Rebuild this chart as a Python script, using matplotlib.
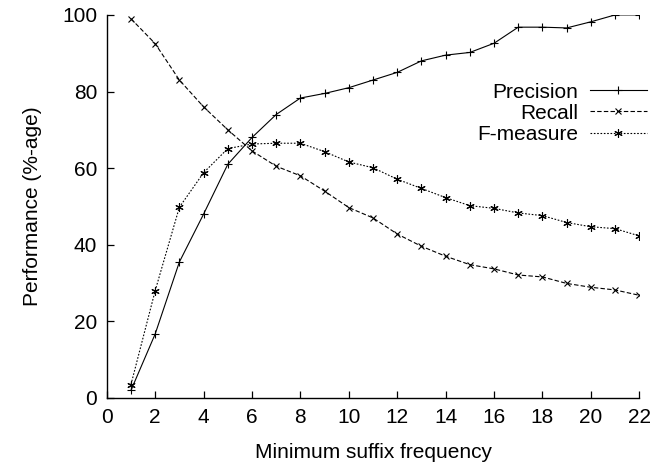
import matplotlib
matplotlib.use("Agg")
import matplotlib.pyplot as plt

# minimum suffix frequency vs performance
freq = list(range(1, 23))
precision = [2, 16.7, 35.5, 48, 61, 68, 74, 78.3, 79.5, 81, 83, 85,
             88, 89.5, 90.2, 92.6, 96.8, 96.8, 96.6, 98.2, 100, 100]
recall = [99, 92.5, 83, 76, 70, 64.5, 60.5, 58, 54, 49.7, 47, 42.8,
          39.6, 37, 34.8, 33.7, 32.1, 31.6, 29.9, 28.9, 28.2, 26.8]
fmeasure = [3.5, 28, 49.8, 58.8, 65.1, 66.3, 66.5, 66.5, 64.3, 61.6, 60.1, 57.1,
            54.7, 52.3, 50.2, 49.5, 48.3, 47.6, 45.8, 44.7, 44.2, 42.3]

plt.rcParams['font.family'] = ['Liberation Sans', 'DejaVu Sans']
plt.rcParams['font.size'] = 15

fig = plt.figure(figsize=(6.55, 4.66), dpi=100)
ax = fig.add_axes([0.163, 0.146, 0.813, 0.822])

ax.plot(freq, precision, color='black', lw=0.8, marker='+', ms=6, mew=0.8,
        label='Precision')
ax.plot(freq, recall, color='black', lw=0.8, ls=(0, (4, 2)), marker='x', ms=5,
        mew=0.8, label='Recall')
ax.plot(freq, fmeasure, color='black', lw=0.8, ls=(0, (1.5, 1.5)), marker=(6, 2, 0),
        ms=6, mew=0.8, label='F-measure')

ax.set_xlim(0, 22)
ax.set_ylim(0, 100)
ax.set_xticks(range(0, 23, 2))
ax.set_yticks(range(0, 101, 20))
ax.tick_params(direction='in', length=5, width=0.9, pad=7)
for s in ['top', 'right']:
    ax.spines[s].set_visible(False)
for s in ['left', 'bottom']:
    ax.spines[s].set_linewidth(1.0)

ax.set_xlabel('Minimum suffix frequency', labelpad=12)
ax.set_ylabel('Performance (%-age)', labelpad=14)

ax.legend(loc='upper right', bbox_to_anchor=(1.003, 0.845),
          bbox_transform=fig.transFigure, frameon=False, markerfirst=False,
          handlelength=2.7, labelspacing=0.1, handletextpad=0.6,
          borderpad=0, fontsize=15)

fig.savefig('out.png', dpi=100)
